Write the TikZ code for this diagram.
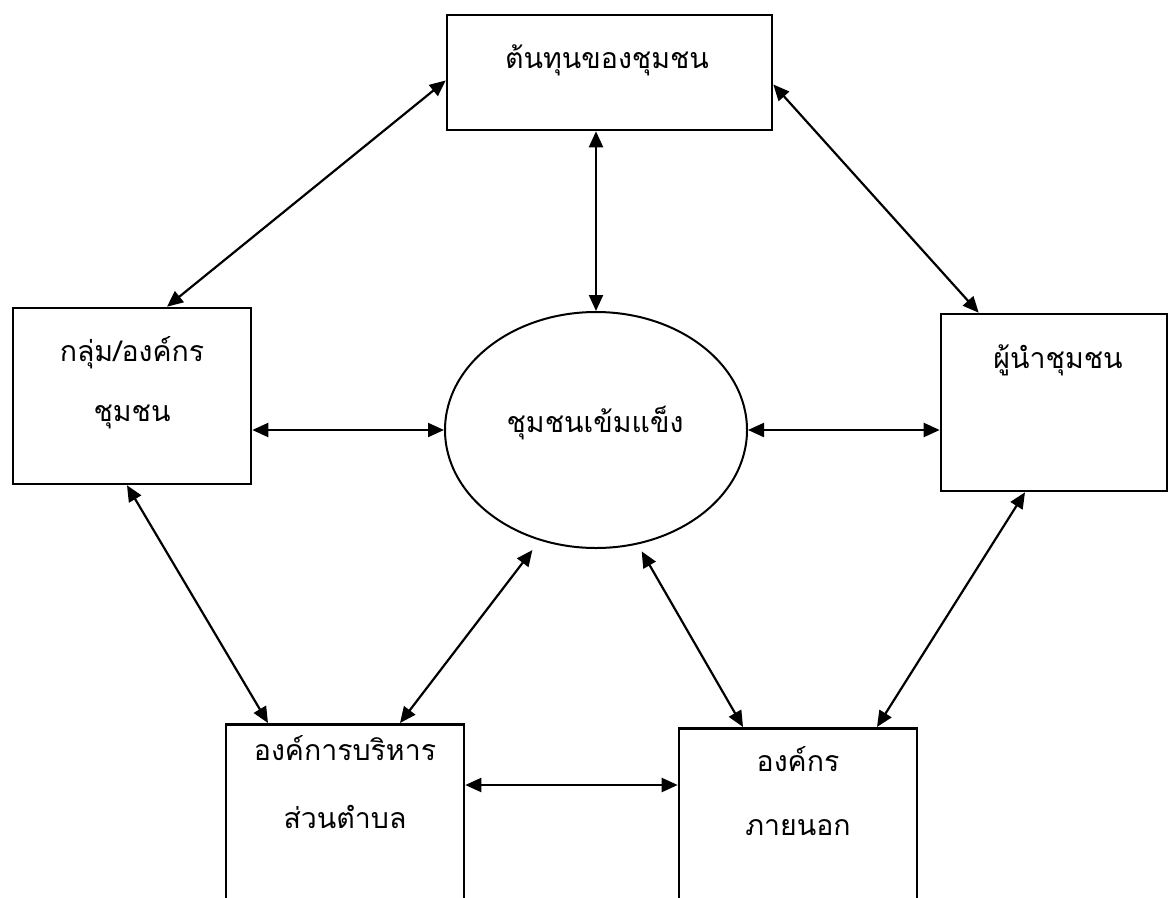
\documentclass[tikz,border=0pt]{standalone}
\usepackage{fontspec}
\usepackage{tikz}
\usetikzlibrary{arrows.meta, positioning, calc, shapes.geometric}
\newfontfamily\thaifont[Script=Thai]{Loma}
\tikzset{
    box/.style={
        rectangle,
        draw=black,
        line width=2.6pt,
        inner sep=0pt
    },
    hub/.style={
        ellipse,
        draw=black,
        line width=2pt,
        inner sep=0pt,
        minimum width=302pt,
        minimum height=236pt
    },
    link/.style={
        draw=black,
        line width=2.2pt,
        {Triangle[length=16pt,width=14pt]}-{Triangle[length=16pt,width=14pt]}
    },
    label/.style={
        font=\thaifont\fontsize{28.5}{60}\selectfont,
        align=center,
        inner sep=0pt
    }
}

\begin{document}
\begin{tikzpicture}[x=1pt, y=-1pt]

\clip (0,0) rectangle (1169,897);
\fill[white] (0,0) rectangle (1169,897);

% Boxes
\node[box, minimum width=325pt, minimum height=115pt] (capital) at (609.5,72.5) {};
\node[box, minimum width=238pt, minimum height=176pt] (group) at (132,396) {};
\node[box, minimum width=226pt, minimum height=177pt] (leader) at (1054,402.5) {};
\node[box, anchor=north, minimum width=238pt, minimum height=240pt] (office) at (345,723) {};
\node[box, anchor=north, minimum width=238pt, minimum height=240pt] (outside) at (798,727) {};

% Centre
\node[hub] (core) at (596,430) {};

% Texts
\node[label] (capitaltxt) at (607,60) {ต้นทุนของชุมชน};
\node[label] (grouptxt) at (132,383) {กลุ่ม/องค์กร\\ชุมชน};
\node[label] (leadertxt) at (1058,360) {ผู้นำชุมชน};
\node[label] (coretxt) at (595,423) {ชุมชนเข้มแข็ง};
\node[label] (officetxt) at (345,782) {องค์การบริหาร\\[8pt]ส่วนตำบล};
\node[label] (outsidetxt) at (798,791) {องค์กร\\[4pt]ภายนอก};

% Connections
\coordinate (midrow) at ($(office.north east)+(0,62)$);
\draw[link] ($(capital.west)+(0,8)$) -- ($(group.north)+(35,0)$);
\draw[link] ($(capital.east)+(0,12)$) -- ($(leader.north west)+(39,0)$);
\draw[link] (capital.south -| core.north) -- (core.north);
\draw[link] (core.west -| group.east) -- (core.west);
\draw[link] (core.east) -- (core.east -| leader.west);
\draw[link] ($(group.south)+(-5,0)$) -- ($(office.north)+(-77,0)$);
\draw[link, shorten <=12pt] (core.243) -- ($(office.north)+(55,0)$);
\draw[link, shorten <=8pt] (core.290) -- ($(outside.north)+(-55,0)$);
\draw[link] ($(leader.south)+(-29,0)$) -- ($(outside.north)+(79,0)$);
\draw[link] (midrow) -- (midrow -| outside.west);

\end{tikzpicture}
\end{document}
